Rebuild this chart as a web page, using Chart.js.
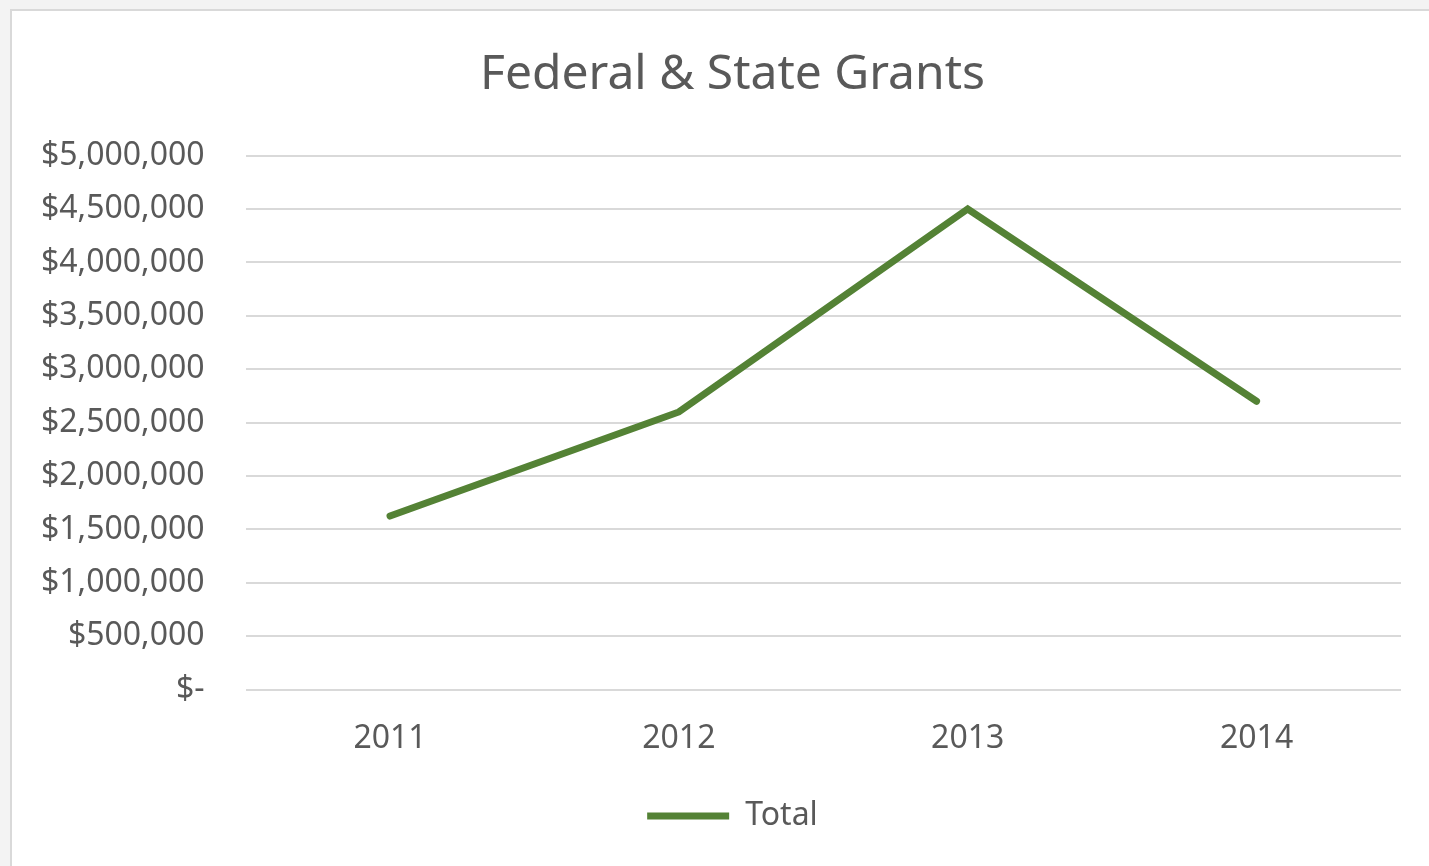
<!DOCTYPE html>
<html lang="en">
<head>
    <meta charset="UTF-8">
    <title>Federal & State Grants</title>
    <script src="https://cdn.jsdelivr.net/npm/chart.js"></script>
    <style>
        html, body { margin: 0; padding: 0; background: #f3f3f3; overflow: hidden; }
        #box { position: absolute; left: 10px; top: 9px; width: 1430px; height: 870px;
               border: 2px solid #d9d9d9; background: #fff; }
    </style>
</head>
<body>
    <div id="box"><canvas id="grantsChart" width="1430" height="870"></canvas></div>

    <script>
        // chart data
        const years = ['2011', '2012', '2013', '2014'];
        const totals = [1625000, 2600000, 4500000, 2700000];
        const yMax = 5000000;
        const yStep = 500000;

        const green = '#548235';
        const grey = '#595959';
        const font = '"Noto Sans", "Open Sans", sans-serif';

        function money(v) {
            if (v === 0) return '$-';
            return '$' + v.toLocaleString('en-US');
        }

        new Chart(document.getElementById('grantsChart'), {
            type: 'line',
            data: {
                labels: years,
                datasets: [{
                    label: 'Total',
                    data: totals,
                    borderColor: green,
                    backgroundColor: green,
                    borderWidth: 7,
                    borderCapStyle: 'round',
                    borderJoinStyle: 'miter',
                    pointRadius: 0,
                    tension: 0
                }]
            },
            options: {
                responsive: false,
                animation: false,
                layout: { padding: { left: -12, right: -23, top: 36, bottom: 39 } },
                plugins: {
                    title: {
                        display: true,
                        text: 'Federal & State Grants',
                        color: grey,
                        font: { family: font, size: 48, weight: 'normal' },
                        padding: { top: 0, bottom: 51 }
                    },
                    legend: {
                        position: 'bottom',
                        labels: {
                            usePointStyle: true,
                            pointStyle: 'line',
                            pointStyleWidth: 82,
                            color: grey,
                            font: { family: font, size: 32 },
                            padding: 20
                        }
                    },
                    tooltip: { enabled: false }
                },
                scales: {
                    x: {
                        offset: true,
                        grid: { display: false },
                        border: { display: false },
                        ticks: { color: grey, font: { family: font, size: 32 }, padding: 22 }
                    },
                    y: {
                        min: 0,
                        max: yMax,
                        ticks: {
                            stepSize: yStep,
                            color: grey,
                            font: { family: font, size: 32 },
                            padding: 41,
                            callback: money
                        },
                        grid: { color: '#d9d9d9', lineWidth: 2, drawTicks: false },
                        border: { display: false }
                    },
                    // empty spacer on the right so title and legend sit where Excel put them
                    spacer: {
                        type: 'linear',
                        position: 'right',
                        grid: { display: false },
                        border: { display: false },
                        ticks: { display: false },
                        afterFit: s => { s.width = 64; }
                    }
                }
            }
        });
    </script>
</body>
</html>
